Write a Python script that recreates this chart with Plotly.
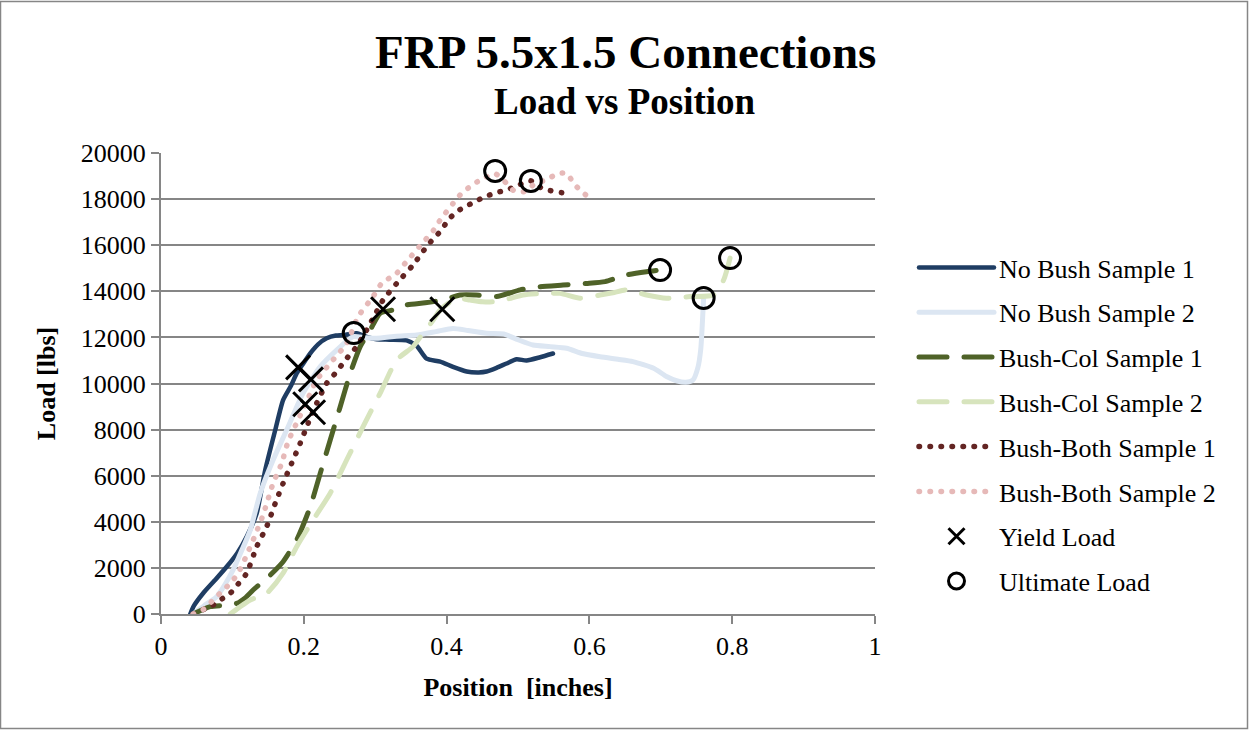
import plotly.graph_objects as go

# Load vs position curves for FRP 5.5x1.5 connections
nb1_x = [0.041, 0.046, 0.059, 0.075, 0.092, 0.107, 0.120, 0.134, 0.146, 0.160, 0.171, 0.182, 0.190, 0.200,
         0.209, 0.220, 0.232, 0.245, 0.255, 0.274, 0.290, 0.302, 0.320, 0.344, 0.358, 0.372, 0.391, 0.409,
         0.428, 0.445, 0.456, 0.470, 0.484, 0.498, 0.512, 0.531, 0.549]
nb1_y = [0, 350, 900, 1450, 2050, 2650, 3350, 4370, 6250, 7980, 9280, 9900, 10440, 10900,
         11310, 11700, 11960, 12080, 12100, 12180, 12000, 11920, 11900, 11870, 11640, 11080, 10950, 10720,
         10520, 10480, 10520, 10680, 10870, 11050, 11000, 11140, 11300]

nb2_x = [0.045, 0.060, 0.078, 0.090, 0.101, 0.113, 0.125, 0.139, 0.157, 0.176, 0.199, 0.223, 0.246, 0.269,
         0.285, 0.302, 0.330, 0.358, 0.385, 0.409, 0.430, 0.456, 0.480, 0.500, 0.521, 0.545, 0.568, 0.590,
         0.615, 0.640, 0.661, 0.690, 0.708, 0.722, 0.735, 0.745, 0.752, 0.756, 0.758, 0.760]
nb2_y = [0, 350, 750, 1300, 1910, 2750, 3640, 5240, 6680, 7980, 9580, 10730, 11450, 12030,
         11990, 11960, 12050, 12100, 12250, 12390, 12300, 12180, 12150, 11900, 11670, 11600, 11530, 11300,
         11160, 11050, 10950, 10660, 10300, 10120, 10050, 10150, 10700, 11500, 12500, 13710]

bc1_x = [0.045, 0.069, 0.090, 0.106, 0.118, 0.129, 0.150, 0.171, 0.190, 0.209, 0.223, 0.237, 0.251, 0.265,
         0.279, 0.293, 0.307, 0.325, 0.344, 0.370, 0.395, 0.419, 0.442, 0.470, 0.503, 0.531, 0.563, 0.596,
         0.622, 0.652, 0.680, 0.699]
bc1_y = [0, 320, 380, 460, 700, 1040, 1600, 2270, 3210, 4650, 6100, 7550, 8990, 10440,
         11600, 12320, 13050, 13190, 13410, 13500, 13620, 13840, 13840, 13770, 14060, 14200, 14270, 14340,
         14420, 14710, 14850, 14920]

bc2_x = [0.097, 0.110, 0.125, 0.148, 0.171, 0.190, 0.213, 0.237, 0.260, 0.283, 0.307, 0.330, 0.353, 0.367,
         0.380, 0.391, 0.414, 0.433, 0.450, 0.470, 0.490, 0.507, 0.530, 0.559, 0.587, 0.615, 0.635, 0.652,
         0.680, 0.708, 0.741, 0.774, 0.788, 0.797]
bc2_y = [0, 300, 610, 900, 1770, 2920, 4080, 5240, 6680, 8130, 9580, 11020, 11600, 12180,
         12700, 13190, 13700, 13620, 13550, 13550, 13700, 13840, 13900, 13910, 13700, 13840, 13950, 14060,
         13840, 13700, 13770, 13840, 14490, 15440]

bb1_x = [0.045, 0.060, 0.073, 0.085, 0.097, 0.108, 0.120, 0.134, 0.148, 0.160, 0.171, 0.183, 0.195, 0.206,
         0.218, 0.232, 0.244, 0.253, 0.262, 0.274, 0.288, 0.300, 0.311, 0.330, 0.353, 0.372, 0.382, 0.393,
         0.402, 0.414, 0.426, 0.440, 0.454, 0.470, 0.486, 0.503, 0.518, 0.531, 0.545, 0.561, 0.566]
bb1_y = [0, 200, 390, 650, 900, 1300, 1770, 2920, 3790, 4800, 5670, 6540, 7410, 8270,
         9140, 10010, 10440, 10800, 11160, 11600, 12320, 13000, 13620, 14340, 15140, 15940, 16300, 16660,
         17090, 17450, 17670, 17890, 18110, 18280, 18420, 18640, 18790, 18510, 18370, 18280, 18250]

bb2_x = [0.045, 0.062, 0.073, 0.085, 0.097, 0.108, 0.120, 0.132, 0.143, 0.157, 0.169, 0.178, 0.192, 0.204,
         0.218, 0.237, 0.260, 0.276, 0.297, 0.309, 0.330, 0.342, 0.362, 0.382, 0.391, 0.409, 0.421, 0.433,
         0.447, 0.468, 0.484, 0.494, 0.510, 0.524, 0.540, 0.554, 0.568, 0.578, 0.589, 0.603]
bb2_y = [0, 250, 610, 970, 1330, 1770, 2560, 3430, 4300, 5670, 6540, 7480, 8420, 9210,
         10150, 10880, 11740, 12900, 13770, 14340, 14780, 15220, 15940, 16660, 17090, 17810, 18250, 18540,
         18830, 19100, 18680, 18370, 18330, 18680, 18830, 19090, 19120, 18680, 18330, 17990]

yield_x = [0.192, 0.210, 0.202, 0.213, 0.311, 0.394]
yield_y = [10700, 10180, 9100, 8750, 13220, 13220]

ult_x = [0.270, 0.760, 0.699, 0.797, 0.518, 0.468]
ult_y = [12190, 13710, 14920, 15440, 18790, 19220]

FONT = "Liberation Serif, Times New Roman, serif"

series = [
    ("No Bush Sample 1", nb1_x, nb1_y, "#1F3D63", "solid", 4.5),
    ("No Bush Sample 2", nb2_x, nb2_y, "#DCE6F2", "solid", 5),
    ("Bush-Col Sample 1", bc1_x, bc1_y, "#4F6228", "28px,17px", 5),
    ("Bush-Col Sample 2", bc2_x, bc2_y, "#D7E4BD", "28px,17px", 5),
    ("Bush-Both Sample 1", bb1_x, bb1_y, "#632523", "0.5px,10.5px", 5.5),
    ("Bush-Both Sample 2", bb2_x, bb2_y, "#E6B9B8", "0.5px,10.5px", 5.5),
]

fig = go.Figure()
for i, (name, xs, ys, color, dash, w) in enumerate(series):
    fig.add_trace(go.Scatter(
        x=xs, y=ys, name=name, mode="lines", legendgroup=f"g{i}",
        line=dict(color=color, width=w, dash=dash, shape="spline", smoothing=0.6),
    ))

fig.add_trace(go.Scatter(
    x=yield_x, y=yield_y, name="Yield Load", mode="markers", legendgroup="g6",
    marker=dict(symbol="x-thin", size=24, color="black", line=dict(color="black", width=3)),
))
fig.add_trace(go.Scatter(
    x=ult_x, y=ult_y, name="Ultimate Load", mode="markers", legendgroup="g7",
    marker=dict(symbol="circle-open", size=21, color="black", line=dict(color="black", width=3)),
))

W, H = 1249, 730
L, R, T, B = 161, 374, 153, 116
pw, ph = W - L - R, H - T - B


def px_x(p):
    return (p - L) / pw


def px_y(p):
    return (H - B - p) / ph


fig.update_layout(
    width=W, height=H,
    margin=dict(l=L, r=R, t=T, b=B, autoexpand=False),
    paper_bgcolor="white", plot_bgcolor="white",
    font=dict(family=FONT, size=26, color="black"),
    showlegend=True,
    legend=dict(
        x=px_x(914), y=px_y(244), xanchor="left", yanchor="top",
        font=dict(family=FONT, size=26, color="black"),
        tracegroupgap=8, itemwidth=75, bgcolor="rgba(0,0,0,0)",
    ),
    xaxis=dict(
        range=[0, 1], dtick=0.2, tick0=0, showgrid=False, zeroline=False,
        showline=True, linecolor="#868686", linewidth=2,
        ticks="outside", ticklen=8, tickwidth=2, tickcolor="#868686",
        tickfont=dict(family=FONT, size=26, color="black"),
        title=dict(text="<b>Position  [inches]</b>", standoff=18,
                   font=dict(family=FONT, size=26, color="black")),
        automargin=False,
    ),
    yaxis=dict(
        range=[0, 20000], dtick=2000, tick0=0, tickformat="d",
        showgrid=True, gridcolor="#868686", gridwidth=2, zeroline=False,
        showline=True, linecolor="#868686", linewidth=2,
        ticks="outside", ticklen=8, tickwidth=2, tickcolor="#868686",
        tickfont=dict(family=FONT, size=26, color="black"),
        title=dict(text="<b>Load [lbs]</b>", standoff=18,
                   font=dict(family=FONT, size=26, color="black")),
        automargin=False,
    ),
    annotations=[
        dict(text="<b>FRP 5.5x1.5 Connections</b>", x=px_x(625), y=px_y(52),
             xref="paper", yref="paper", xanchor="center", yanchor="middle",
             showarrow=False, font=dict(family=FONT, size=47, color="black")),
        dict(text="<b>Load vs Position</b>", x=px_x(625), y=px_y(101),
             xref="paper", yref="paper", xanchor="center", yanchor="middle",
             showarrow=False, font=dict(family=FONT, size=37, color="black")),
    ],
    shapes=[
        dict(type="rect", xref="paper", yref="paper",
             x0=px_x(0.5), x1=px_x(W - 1.5), y0=px_y(H - 1.5), y1=px_y(1.5),
             line=dict(color="#868686", width=1.5), fillcolor="rgba(0,0,0,0)", layer="below"),
    ],
)

# Round line caps so dotted series draw as round dots and dashes get rounded ends
round_caps = """
var gd = document.getElementById('{plot_id}');
function roundCaps() {
  gd.querySelectorAll('.scatterlayer .js-line, .legendlines path').forEach(function (p) {
    p.style.strokeLinecap = 'round';
  });
}
roundCaps();
gd.on('plotly_afterplot', roundCaps);
"""

fig.write_html("out.html", post_script=round_caps)
